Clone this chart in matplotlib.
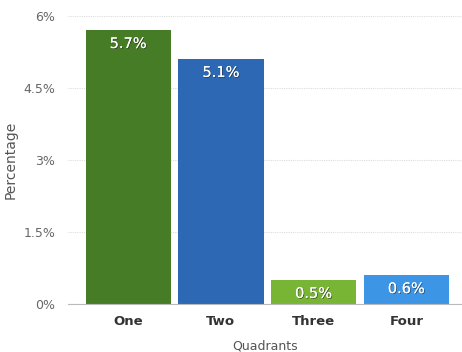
import matplotlib.pyplot as plt
import matplotlib.patheffects as pe
from matplotlib.ticker import FuncFormatter

quadrants = ['One', 'Two', 'Three', 'Four']
percentages = [5.7, 5.1, 0.5, 0.6]
colors = ['#477c26', '#2c68b3', '#78b534', '#3d95e6']
yticks = [0, 1.5, 3, 4.5, 6]

fig = plt.figure(figsize=(4.62, 3.52), dpi=100)
ax = fig.add_axes([0.147, 0.136, 0.853, 0.819])

x = range(len(quadrants))
bars = ax.bar(x, percentages, width=0.92, color=colors, zorder=2)

for b, v in zip(bars, percentages):
    t = ax.text(b.get_x() + b.get_width() / 2, v - 0.12, f'{v}%',
                ha='center', va='top', color='white', fontsize=10.5, zorder=3)
    t.set_path_effects([pe.withSimplePatchShadow(offset=(0.6, -0.6), shadow_rgbFace='#222222', alpha=0.6),
                        pe.Normal()])

ax.set_xlim(-0.65, 3.6)
ax.set_ylim(0, 6)
ax.set_yticks(yticks)
ax.yaxis.set_major_formatter(FuncFormatter(lambda v, p: f'{v:g}%'))
ax.set_xticks(list(x))
ax.set_xticklabels(quadrants, fontweight='bold', color='#333333', fontsize=9.5)
ax.tick_params(axis='y', colors='#666666', labelsize=9, length=0, pad=9)
ax.tick_params(axis='x', length=0, pad=8)

ax.grid(axis='y', color='#dddddd', linestyle=(0, (1, 1)), linewidth=0.8, zorder=0)
for s in ['top', 'right', 'left']:
    ax.spines[s].set_visible(False)
ax.spines['bottom'].set_color('#bbbbbb')

ax.set_ylabel('Percentage', color='#555555', fontsize=10, labelpad=4)
ax.set_xlabel('Quadrants', color='#555555', fontsize=9, labelpad=8)

fig.savefig('out.png', dpi=100)
